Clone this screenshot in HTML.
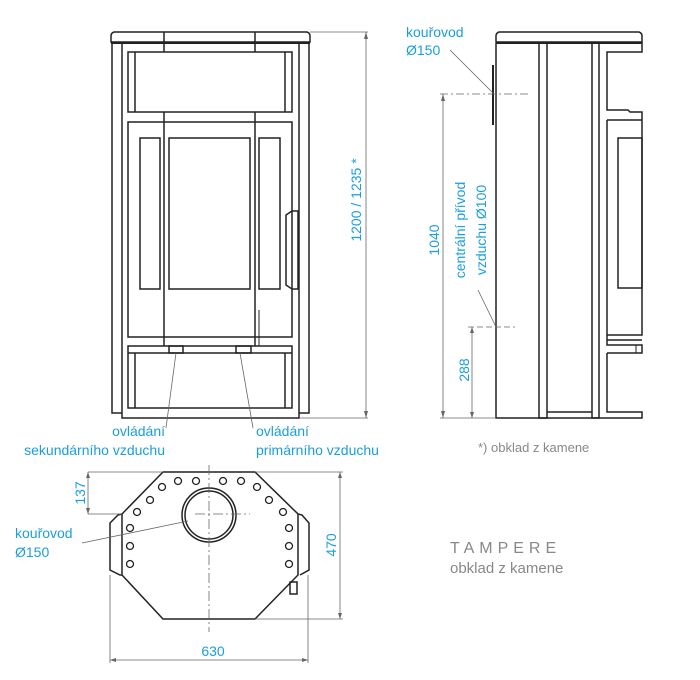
<!DOCTYPE html>
<html><head><meta charset="utf-8"><style>
html,body{margin:0;padding:0;background:#fff}
svg{display:block}
text{font-family:"Liberation Sans",sans-serif}
.b{fill:#1a9ee0;font-size:14px}
.g{fill:#888;font-size:13px}
</style></head><body>
<svg width="700" height="680" viewBox="0 0 700 680" xmlns="http://www.w3.org/2000/svg">
<g fill="none" stroke="#222" stroke-width="1.5">
<!-- FRONT -->
<path d="M114 32 L307 32 Q310 33 310 36 L310 42 L111 42 L111 36 Q111 33 114 32Z"/>
<line x1="111" y1="43" x2="310" y2="43" stroke-width="2"/>
<line x1="164" y1="32" x2="164" y2="52"/><line x1="255" y1="32" x2="255" y2="52"/>
<rect x="122" y="43" width="177" height="375"/>
<path d="M112 43 V413 H122 M309 43 V413 H299"/>
<rect x="128" y="52" width="164" height="60"/>
<line x1="135" y1="52" x2="135" y2="112"/><line x1="285" y1="52" x2="285" y2="112"/>
<rect x="128" y="122" width="164" height="215"/>
<line x1="164" y1="112" x2="164" y2="346"/><line x1="255" y1="112" x2="255" y2="346"/>
<line x1="259" y1="310" x2="259" y2="346" stroke-width="1"/>
<rect x="140" y="138" width="20" height="151"/>
<rect x="169" y="138" width="81" height="151"/>
<rect x="259" y="138" width="21" height="151"/>
<path d="M286 215 L292 211 H298 V289 H292 L286 285Z"/>
<rect x="128" y="346" width="164" height="62"/>
<line x1="128" y1="353" x2="292" y2="353"/>
<line x1="135" y1="353" x2="135" y2="408"/><line x1="285" y1="353" x2="285" y2="408"/>
<rect x="169" y="346" width="14" height="7"/><rect x="236" y="346" width="15" height="7"/>
<!-- SIDE -->
<path d="M499 32 L639 32 Q642 33 642 36 L642 42 L496 42 L496 36 Q496 33 499 32Z"/>
<line x1="496" y1="43" x2="642" y2="43" stroke-width="2"/>
<path d="M496 43 V418 H599"/>
<rect x="539" y="43" width="8" height="375"/><rect x="592" y="43" width="7" height="375"/>
<line x1="547" y1="412" x2="592" y2="412"/>
<path d="M599 43 H642 V52 H607 V110 H628 L630 112 H642 V120 H607 M642 112 V335 H607 M607 120 V345 H642 V353 H607 M642 345 V353 M607 353 V412 H642 V418 H599"/>
<rect x="618" y="138" width="24" height="150"/>
<line x1="607" y1="340" x2="642" y2="340"/>
<line x1="636" y1="345" x2="636" y2="353" stroke-width="1"/>
<line x1="493" y1="65" x2="493" y2="125" stroke-width="2"/>
<!-- BOTTOM VIEW -->
<path d="M163 472 H255 L298 514 V575 L255 619 H163 L122 575 V514 Z"/>
<path d="M122 514 L118 515 L110 523 V570 L120 575 L122 575 M298 514 L302 515 L309 523 V570 L300 575"/>
<circle cx="209" cy="515" r="27"/><circle cx="209" cy="515" r="24"/>
<g stroke-width="1.3">
<circle cx="178" cy="481" r="3.5"/><circle cx="196" cy="481" r="3.5"/><circle cx="223" cy="481" r="3.5"/><circle cx="241" cy="481" r="3.5"/>
<circle cx="162" cy="487" r="3.5"/><circle cx="257" cy="487" r="3.5"/>
<circle cx="150" cy="500" r="3.5"/><circle cx="269" cy="500" r="3.5"/>
<circle cx="137" cy="512" r="3.5"/><circle cx="283" cy="512" r="3.5"/>
<circle cx="130" cy="528" r="3.5"/><circle cx="289" cy="528" r="3.5"/>
<circle cx="130" cy="546" r="3.5"/><circle cx="289" cy="546" r="3.5"/>
<circle cx="130" cy="564" r="3.5"/><circle cx="289" cy="564" r="3.5"/>
</g>
<rect x="290" y="582" width="7" height="12"/>
</g>
<g fill="none" stroke="#666" stroke-width="0.8">
<!-- front dims/leaders -->
<path d="M310 32 H368 M299 418 H368 M366 32 V418"/>
<path d="M176 353 L166 428 M240 353 L253 428"/>
<!-- side dims -->
<path d="M440 94 H530" stroke-dasharray="8 3 2 3"/>
<path d="M468 327 H515" stroke-dasharray="6 3"/>
<path d="M443 94 V418 M472 327 V418 M440 418 H496"/>
<path d="M450 50 L493 93 M478 290 L496 327"/>
<!-- bottom dims -->
<path d="M88 472 H163 M88 514 H122 M88 472 V514"/>
<path d="M255 472 H343 M255 619 H343 M340 472 V619"/>
<path d="M110 575 V663 M308 575 V663 M110 660 H308"/>
<path d="M209 465 V632 M195 514 H250" stroke-dasharray="10 3 2 3"/>
<path d="M82 543 L188 521"/>
</g>
<g fill="#666">
<path d="M366 32 l-2 7 h4z M366 418 l-2 -7 h4z M443 94 l-2 7 h4z M443 418 l-2 -7 h4z M472 327 l-2 6 h4z M472 418 l-2 -6 h4z M88 472 l-2 6 h4z M88 514 l-2 -6 h4z M340 472 l-2 6 h4z M340 619 l-2 -6 h4z M110 660 l6 -2 v4z M308 660 l-6 -2 v4z"/>
</g>
<text class="b" transform="translate(361,200) rotate(-90)" text-anchor="middle">1200 / 1235 *</text>
<text class="b" x="165" y="436" text-anchor="end">ovládání</text>
<text class="b" x="165" y="455" text-anchor="end">sekundárního vzduchu</text>
<text class="b" x="256" y="436">ovládání</text>
<text class="b" x="256" y="455">primárního vzduchu</text>
<text class="b" x="406" y="37">kouřovod</text>
<text class="b" x="406" y="55">Ø150</text>
<text class="b" transform="translate(439,240) rotate(-90)" text-anchor="middle">1040</text>
<text class="b" transform="translate(465,230) rotate(-90)" text-anchor="middle">centrální přívod</text>
<text class="b" transform="translate(486,230) rotate(-90)" text-anchor="middle">vzduchu Ø100</text>
<text class="b" transform="translate(469,370) rotate(-90)" text-anchor="middle">288</text>
<text class="g" x="478" y="452">*) obklad z kamene</text>
<text class="b" transform="translate(85,493) rotate(-90)" text-anchor="middle">137</text>
<text class="b" transform="translate(336,545) rotate(-90)" text-anchor="middle">470</text>
<text class="b" x="213" y="656" text-anchor="middle">630</text>
<text class="b" x="15" y="538">kouřovod</text>
<text class="b" x="15" y="557">Ø150</text>
<text class="g" x="450" y="553" style="font-size:16px;letter-spacing:5px">TAMPERE</text>
<text class="g" x="450" y="573" style="font-size:15px">obklad z kamene</text>
</svg>
</body></html>
